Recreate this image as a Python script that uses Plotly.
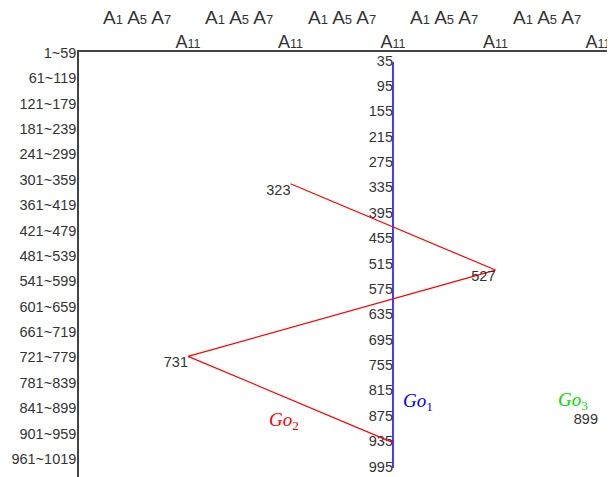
import plotly.graph_objects as go

# ---- data ----
row_labels = ["1~59", "61~119", "121~179", "181~239", "241~299", "301~359",
              "361~419", "421~479", "481~539", "541~599", "601~659", "661~719",
              "721~779", "781~839", "841~899", "901~959", "961~1019"]
row_mids = [30, 90, 150, 210, 270, 330, 390, 450, 510, 570, 630, 690,
            750, 810, 870, 930, 990]

columns = [1, 2, 3, 4, 5]
col_labels = ["A<span style='font-size:12.5px'>11</span>"] * 5
group_pos = [0.5, 1.5, 2.5, 3.5, 4.5]
group_label = ("A<span style='font-size:13px'>1</span> A<span style='font-size:13px'>5</span> "
               "A<span style='font-size:13px'>7</span>")

go1_col = 3
go1_values = [35, 95, 155, 215, 275, 335, 395, 455, 515, 575, 635, 695,
              755, 815, 875, 935, 995]

go2_cols = [2, 4, 1, 3]
go2_values = [323, 527, 731, 935]
go2_text = ["323", "527", "731", ""]

go3_cols = [5]
go3_values = [899]

series_names = ["Go1", "Go2", "Go3"]
name_pos = [(3.24, 839), (1.94, 884), (4.76, 837)]
colors = ["#0000ff", "#ff0000", "#00dd00"]

TXT = "#333333"
FONT = "Liberation Sans, Arial, sans-serif"

# page body has an 8px margin: shrink the figure so it fills the 615x477 window
PAGE = 8

fig = go.Figure()

fig.add_trace(go.Scatter(
    x=[go1_col] * len(go1_values), y=go1_values,
    mode="lines+text", text=[str(v) for v in go1_values],
    textposition="middle left",
    textfont=dict(size=14.5, color=TXT, family=FONT),
    line=dict(color=colors[0], width=1.5), hoverinfo="skip", showlegend=False))

fig.add_trace(go.Scatter(
    x=go2_cols, y=go2_values, mode="lines+text", text=go2_text,
    textposition="bottom left",
    textfont=dict(size=14.5, color=TXT, family=FONT),
    line=dict(color=colors[1], width=1.2), hoverinfo="skip", showlegend=False))

fig.add_trace(go.Scatter(
    x=go3_cols, y=go3_values, mode="text", text=[str(v) for v in go3_values],
    textposition="top left",
    textfont=dict(size=14.5, color=TXT, family=FONT),
    hoverinfo="skip", showlegend=False))

for name, (px, py), c in zip(series_names, name_pos, colors):
    fig.add_annotation(x=px, y=py, xref="x", yref="y", showarrow=False,
                       text=f"<i>{name[:2]}</i><sub>{name[2:]}</sub>",
                       font=dict(family="Liberation Serif, Times New Roman, serif",
                                 size=19, color=c))

for gx in group_pos:
    fig.add_annotation(x=gx, y=1.08, xref="x", yref="paper", showarrow=False,
                       yanchor="middle", text=group_label,
                       font=dict(family=FONT, size=19, color=TXT))

fig.update_layout(
    width=615 - PAGE, height=477 - PAGE,
    margin=dict(l=79 - PAGE, r=0, t=52 - PAGE, b=0, autoexpand=False),
    paper_bgcolor="white", plot_bgcolor="white",
    xaxis=dict(range=[-0.0634, 5.166], side="top", showgrid=False, zeroline=False,
               showline=True, linecolor="#444444", linewidth=1.5,
               tickvals=columns, ticktext=col_labels, ticks="",
               ticklabelstandoff=-5,
               tickfont=dict(family=FONT, size=18, color=TXT), automargin=False),
    yaxis=dict(range=[1016.3, 11.35], showgrid=False, zeroline=False,
               showline=True, linecolor="#444444", linewidth=1.5,
               tickvals=row_mids, ticktext=row_labels, ticks="",
               ticklabelstandoff=-2, ticklabelshift=7,
               tickfont=dict(family=FONT, size=14.5, color=TXT), automargin=False),
)

fig.write_html("out.html")
